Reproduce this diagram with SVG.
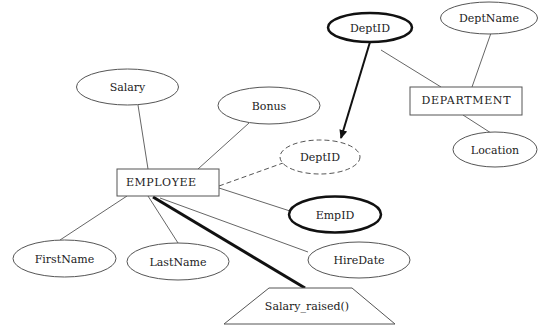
<svg xmlns="http://www.w3.org/2000/svg" width="538" height="326" viewBox="0 0 538 326">
<defs>
<style>
.t{font-family:"DejaVu Serif",serif;font-size:11px;fill:#222;text-anchor:middle}
.attr{fill:#fff;stroke:#555;stroke-width:1}
.key{fill:#fff;stroke:#111;stroke-width:2.5}
.derived{fill:#fff;stroke:#555;stroke-width:1;stroke-dasharray:5,3}
.ent{fill:#fff;stroke:#555;stroke-width:1}
.ln{stroke:#666;stroke-width:1;fill:none}
.dash{stroke:#555;stroke-width:1;stroke-dasharray:5,3;fill:none}
.thick{stroke:#111;stroke-width:3;fill:none}
.arr{stroke:#111;stroke-width:2;fill:none}
</style>
<marker id="ah" markerWidth="10" markerHeight="10" refX="8" refY="5" orient="auto" markerUnits="userSpaceOnUse">
<path d="M0,1 L9,5 L0,9 Z" fill="#111"/>
</marker>
</defs>
<rect width="538" height="326" fill="#fff"/>
<g id="connectors">
<line class="ln" x1="138" y1="105" x2="148" y2="169"/>
<line class="ln" x1="249" y1="123" x2="198" y2="169"/>
<line class="ln" x1="127" y1="196" x2="60" y2="240"/>
<line class="ln" x1="148" y1="196" x2="178" y2="243"/>
<line class="ln" x1="160" y1="198" x2="308" y2="252"/>
<line class="ln" x1="219" y1="188" x2="290" y2="211"/>
<line class="dash" x1="219" y1="186" x2="283" y2="163"/>
<line class="thick" x1="153" y1="197" x2="305" y2="288"/>
<line class="arr" x1="370" y1="42" x2="341" y2="138" marker-end="url(#ah)"/>
<line class="ln" x1="381" y1="50" x2="441" y2="87"/>
<line class="ln" x1="491" y1="33" x2="472" y2="87"/>
<line class="ln" x1="463" y1="115" x2="491" y2="133"/>
</g>
<g id="salary"><ellipse class="attr" cx="127.5" cy="87" rx="51" ry="18"/><text class="t" x="127.5" y="91">Salary</text></g>
<g id="bonus"><ellipse class="attr" cx="269" cy="105.5" rx="51" ry="18.5"/><text class="t" x="269" y="110">Bonus</text></g>
<g id="employee"><rect class="ent" x="117" y="169" width="102" height="27"/><text class="t" x="161" y="186" textLength="70" lengthAdjust="spacing">EMPLOYEE</text></g>
<g id="firstname"><ellipse class="attr" cx="64.5" cy="258.5" rx="51.5" ry="18.5"/><text class="t" x="64.5" y="263">FirstName</text></g>
<g id="lastname"><ellipse class="attr" cx="178" cy="261.5" rx="51" ry="18.5"/><text class="t" x="178" y="266">LastName</text></g>
<g id="deptid-fk"><ellipse class="derived" cx="320" cy="157" rx="40" ry="17"/><text class="t" x="320" y="161">DeptID</text></g>
<g id="empid"><ellipse class="key" cx="335" cy="214.5" rx="46" ry="18"/><text class="t" x="335" y="219">EmpID</text></g>
<g id="hiredate"><ellipse class="attr" cx="359" cy="260" rx="51" ry="18"/><text class="t" x="359" y="264">HireDate</text></g>
<g id="salary-raised"><polygon class="ent" points="269,288 352,288 395,324 224,324"/><text class="t" x="307" y="310">Salary_raised()</text></g>
<g id="deptid-pk"><ellipse class="key" cx="370" cy="27.5" rx="42" ry="14.5"/><text class="t" x="370" y="32">DeptID</text></g>
<g id="deptname"><ellipse class="attr" cx="489" cy="18" rx="48.5" ry="16"/><text class="t" x="489" y="22">DeptName</text></g>
<g id="department"><rect class="ent" x="410" y="87" width="112" height="28"/><text class="t" x="466" y="104" textLength="89" lengthAdjust="spacing">DEPARTMENT</text></g>
<g id="location"><ellipse class="attr" cx="495" cy="149.5" rx="42" ry="17.5"/><text class="t" x="495" y="154">Location</text></g>
</svg>
